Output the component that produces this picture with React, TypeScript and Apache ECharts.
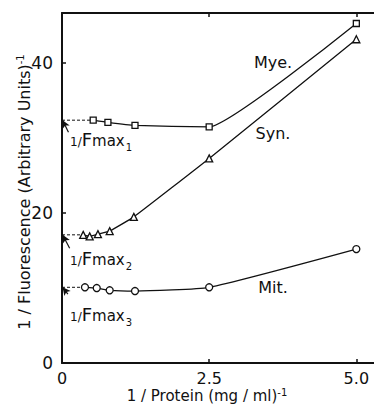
import React, { useEffect, useRef } from "react";
import * as echarts from "echarts";

// Data
const myeX = [0.53, 0.78, 1.24, 2.5, 5.0];
const myeY = [32.4, 32.1, 31.7, 31.5, 45.3];
const synX = [0.36, 0.47, 0.61, 0.81, 1.22, 2.5, 5.0];
const synY = [17.1, 16.9, 17.2, 17.6, 19.5, 27.3, 43.2];
const mitX = [0.39, 0.59, 0.81, 1.24, 2.5, 5.0];
const mitY = [10.1, 10.0, 9.7, 9.6, 10.1, 15.2];
const intercepts = [32.4, 17.1, 10.1]; // 1/Fmax1, 1/Fmax2, 1/Fmax3
const seriesNames = ["Mye.", "Syn.", "Mit."];
const xTicks = [0, 2.5, 5.0];
const xTickLabels = ["0", "2.5", "5.0"];
const yTicks = [0, 20, 40];

const INK = "#111";
const FONT = "DejaVu Sans";

function zip(xs: number[], ys: number[]) {
  return xs.map((x, i) => [x, ys[i]]);
}

export default function App() {
  const ref = useRef<HTMLDivElement>(null);
  useEffect(() => {
    if (!ref.current) return;
    const chart = echarts.init(ref.current, null, { renderer: "svg" });
    const sets = [
      { x: myeX, y: myeY, symbol: "rect", size: 6, smooth: 0.12 },
      { x: synX, y: synY, symbol: "triangle", size: 7, smooth: 0.1 },
      { x: mitX, y: mitY, symbol: "circle", size: 7, smooth: 0.15 },
    ];
    const arrowStarts = [
      [0.11, 30.8],
      [0.13, 15.3],
      [0.1, 9.2],
    ];
    const series: any[] = [];
    sets.forEach((s, i) => {
      series.push({
        type: "line",
        data: zip(s.x, s.y),
        smooth: s.smooth,
        symbol: s.symbol,
        symbolSize: s.size,
        showAllSymbol: true,
        itemStyle: { color: "#fff", borderColor: INK, borderWidth: 1.3 },
        lineStyle: { color: INK, width: 1.3 },
        z: 3,
      });
      series.push({
        type: "line",
        data: [
          [0, intercepts[i]],
          [s.x[0], intercepts[i]],
        ],
        symbol: "none",
        lineStyle: { color: INK, width: 1, type: [3, 2] },
        z: 2,
        markLine: {
          silent: true,
          symbol: ["none", "arrow"],
          symbolSize: [6, 8],
          label: { show: false },
          lineStyle: { color: INK, width: 1.2, type: "solid" },
          data: [
            [
              { coord: arrowStarts[i] },
              { coord: [0.01, intercepts[i]] },
            ],
          ],
        },
      });
    });

    const labelPos = [
      [273, 62],
      [273, 133],
      [273, 287],
    ];
    const fmaxPos = [
      [70, 139],
      [70, 258],
      [70, 314],
    ];
    const graphic: any[] = [];
    seriesNames.forEach((n, i) => {
      graphic.push({
        type: "text",
        x: labelPos[i][0],
        y: labelPos[i][1],
        style: {
          text: n,
          font: `16px "${FONT}"`,
          fill: INK,
          align: "center",
          verticalAlign: "middle",
        },
      });
      graphic.push({
        type: "text",
        x: fmaxPos[i][0],
        y: fmaxPos[i][1],
        style: {
          text: `{a|1/}{f|F}{m|max}{s|${i + 1}}`,
          fill: INK,
          verticalAlign: "middle",
          rich: {
            a: { font: `12px "${FONT}"`, fill: INK, verticalAlign: "bottom" },
            f: { font: `18px "${FONT}"`, fill: INK, verticalAlign: "bottom" },
            m: { font: `15px "${FONT}"`, fill: INK, verticalAlign: "bottom" },
            s: { font: `10px "${FONT}"`, fill: INK, verticalAlign: "bottom", padding: [0, 0, -4, 1] },
          },
        },
      });
    });
    graphic.push({
      type: "text",
      x: 24,
      y: 192,
      rotation: Math.PI / 2,
      style: {
        text: "1 / Fluorescence (Arbitrary Units){s|-1}",
        font: `16px "${FONT}"`,
        fill: INK,
        align: "center",
        verticalAlign: "middle",
        rich: { s: { font: `10px "${FONT}"`, fill: INK, padding: [0, 0, 8, 0] } },
      },
    });
    graphic.push({
      type: "text",
      x: 207,
      y: 396,
      style: {
        text: "1 / Protein (mg / ml){s|-1}",
        font: `15px "${FONT}"`,
        fill: INK,
        align: "center",
        verticalAlign: "middle",
        rich: { s: { font: `10px "${FONT}"`, fill: INK, padding: [0, 0, 8, 0] } },
      },
    });

    const axisCommon = {
      axisLine: { show: true, onZero: false, lineStyle: { color: INK, width: 2 } },
      splitLine: { show: false },
    };

    chart.setOption({
      animation: false,
      backgroundColor: "#fff",
      grid: { left: 62, right: 0, top: 13, bottom: 42 },
      xAxis: [
        {
          type: "value",
          min: 0,
          max: 5.3,
          interval: 2.5,
          ...axisCommon,
          axisTick: { show: true, inside: true, length: 4, customValues: xTicks.slice(1), lineStyle: { color: INK, width: 1.5 } },
          axisLabel: {
            customValues: xTicks,
            formatter: (v: number) => xTickLabels[xTicks.indexOf(v)] ?? "",
            margin: 7,
            color: INK,
            fontFamily: FONT,
            fontSize: 16,
          },
        },
        {
          type: "value",
          position: "top",
          min: 0,
          max: 5.3,
          interval: 2.5,
          ...axisCommon,
          axisTick: { show: true, inside: true, length: 4, customValues: xTicks.slice(1), lineStyle: { color: INK, width: 1.5 } },
          axisLabel: { show: false },
        },
      ],
      yAxis: {
        type: "value",
        min: 0,
        max: 46.7,
        interval: 20,
        ...axisCommon,
        axisTick: { show: true, inside: true, length: 4, customValues: yTicks.slice(1), lineStyle: { color: INK, width: 1.5 } },
        axisLabel: {
          customValues: yTicks,
          margin: 9,
          color: INK,
          fontFamily: FONT,
          fontSize: 17,
        },
      },
      series,
      graphic,
    });
    return () => chart.dispose();
  }, []);
  return (
    <div
      ref={ref}
      style={{ position: "absolute", left: 0, top: 0, width: 374, height: 405 }}
    />
  );
}
